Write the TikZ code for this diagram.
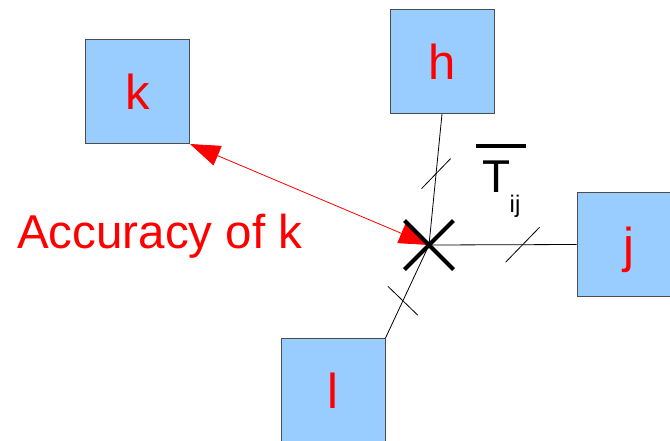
\documentclass[tikz,border=0pt]{standalone}
\usepackage{fontspec}
\setmainfont{Liberation Sans}
\usetikzlibrary{arrows.meta,shapes.misc,calc}
\definecolor{boxblue}{HTML}{99CCFF}
\tikzset{
  agent/.style={draw=black!70, fill=boxblue, line width=1pt, minimum size=104pt, inner sep=0pt,
    text=red, font=\fontsize{49}{52}\selectfont, text height=35pt, text depth=0pt},
  link/.style={draw=black, line width=0.8pt},
  tick/.style={draw=black, line width=0.8pt},
}
\begin{document}
\begin{tikzpicture}[x=1pt,y=-1pt]
\useasboundingbox (0,0) rectangle (670,440);
\node[agent] (k) at (137.5,91.5) {k};
\node[agent] (h) at (442,61.5) {h};
\node[agent] (j) at (629,244.5) {j};
\node[agent] (l) at (333,390.5) {l};
\coordinate (c) at (429,245);
% links to the neighbours
\draw[link] (c) -- (h.south);
\draw[link] (c) -- (j.west);
\draw[link] (c) -- (l.north east);
% tick marks
\draw[tick] ($(c)!0.545!(h.south)$) +(-14.5,15) -- +(14.5,-15);
\draw[tick] ($(c)!0.635!(j.west)$) +(-17,17.5) -- +(17,-17.5);
\draw[tick] ($(c)!0.6!(l.north east)$) +(-15,-14.5) -- +(15,14.5);
% accuracy arrow
\draw[red, line width=0.8pt, {Triangle[length=30pt,width=21pt]}-{Triangle[length=30pt,width=21pt]}] (k.south east) -- (c);
\node[cross out, draw=black, line width=4pt, minimum size=45pt, inner sep=0pt] (x) at (c) {};
\node[text=red, font=\fontsize{47.5}{50}\selectfont, anchor=base west, inner sep=0pt] (acc) at (17,248) {Accuracy of k};
% T bar ij
\node[font=\fontsize{46}{50}\selectfont, anchor=base, inner sep=0pt] (T) at (496.5,192) {T};
\draw[line width=3.5pt] ([shift={(-6,-14)}]T.north west) -- ([shift={(15,-14)}]T.north east);
\node[font=\fontsize{24}{26}\selectfont, anchor=base west, inner sep=0pt] (ij) at (509.5,212) {ij};
\end{tikzpicture}
\end{document}
